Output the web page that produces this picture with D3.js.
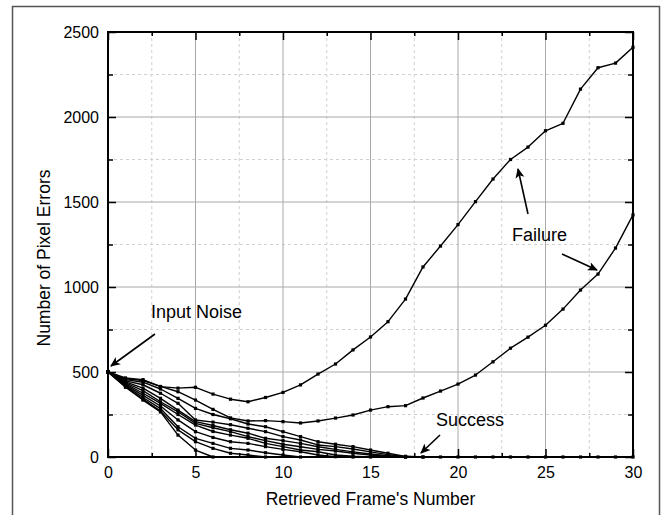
<!DOCTYPE html>
<html><head><meta charset="utf-8">
<script src="https://cdn.jsdelivr.net/npm/d3@7"></script>
<style>
body{margin:0;background:#fff;}
svg{display:block;font-family:"Liberation Sans",Arial,Helvetica,sans-serif;}
</style>
</head><body>
<svg id="chart" width="667" height="515"></svg>
<script>
// ---------- data ----------
const frames = [0,1,2,3,4,5,6,7,8,9,10,11,12,13,14,15,16,17,18,19,20,21,22,23,24,25,26,27,28,29,30];
const failure1 = [500,465,455,414,405,410,370,340,325,350,380,424,488,547,630,706,796,929,1118,1241,1367,1502,1635,1750,1823,1919,1963,2164,2290,2317,2410];
const failure2 = [500,460,450,415,384,335,280,230,212,214,208,200,212,229,247,276,296,302,347,388,429,482,560,640,705,775,870,982,1076,1229,1424];
const success1 = [500,455,440,400,345,286,250,225,194,178,149,120,90,75,61,41,22,4,0,0,0,0,0,0,0,0,0,0,0,0,0];
const success2 = [500,448,425,375,316,218,205,190,169,149,120,100,71,61,47,30,14,2,0];
const success3 = [500,442,405,345,276,208,185,160,140,110,96,80,60,45,30,18,8,0];
const success4 = [500,436,390,325,266,198,172,149,120,96,75,60,45,35,22,12,4,0];
const success5 = [500,430,375,315,250,188,150,129,110,80,61,41,31,12,4,0];
const success6 = [500,425,362,300,218,149,115,90,80,61,45,31,12,2,0];
const success7 = [500,420,350,285,178,110,80,51,41,25,12,0];
const success8 = [500,415,340,270,160,90,51,22,12,0];
const success9 = [500,410,335,265,129,41,0];
const seriesList = [success9,success8,success7,success6,success5,success4,success3,success2,success1,failure2,failure1];

const xMajorTicks = [0,5,10,15,20,25,30];
const xMinorTicks = [2.5,7.5,12.5,17.5,22.5,27.5];
const yMajorTicks = [0,500,1000,1500,2000,2500];
const yMinorTicks = [250,750,1250,1750,2250];
const xTitle = "Retrieved Frame's Number";
const yTitle = "Number of Pixel Errors";

// ---------- layout ----------
const svg = d3.select("#chart");
const L = 108, R = 633, T = 32, B = 457;
const x = d3.scaleLinear().domain([0,30]).range([L,R]);
const y = d3.scaleLinear().domain([0,2500]).range([B,T]);

svg.append("rect").attr("width",667).attr("height",515).attr("fill","#fff");
// outer frame
svg.append("rect").attr("x",12.5).attr("y",6.5).attr("width",647).attr("height",530)
  .attr("fill","none").attr("stroke","#555").attr("stroke-width",1.5);

// grid
const grid = svg.append("g");
grid.selectAll(".vmin").data(xMinorTicks).join("line")
  .attr("x1",d=>x(d)).attr("x2",d=>x(d)).attr("y1",T).attr("y2",B)
  .attr("stroke","#d0d0d0").attr("stroke-dasharray","3,3").attr("stroke-width",1);
grid.selectAll(".hmin").data(yMinorTicks).join("line")
  .attr("y1",d=>y(d)).attr("y2",d=>y(d)).attr("x1",L).attr("x2",R)
  .attr("stroke","#d0d0d0").attr("stroke-dasharray","3,3").attr("stroke-width",1);
grid.selectAll(".vmaj").data(xMajorTicks.slice(1,-1)).join("line")
  .attr("x1",d=>x(d)).attr("x2",d=>x(d)).attr("y1",T).attr("y2",B)
  .attr("stroke","#a8a8a8").attr("stroke-width",1);
grid.selectAll(".hmaj").data(yMajorTicks.slice(1,-1)).join("line")
  .attr("y1",d=>y(d)).attr("y2",d=>y(d)).attr("x1",L).attr("x2",R)
  .attr("stroke","#a8a8a8").attr("stroke-width",1);

// curves
const line = d3.line().x((d,i)=>x(frames[i])).y(d=>y(d));
const curves = svg.append("g");
seriesList.forEach(s=>{
  curves.append("path").attr("d",line(s)).attr("fill","none")
    .attr("stroke","#000").attr("stroke-width",1.4).attr("stroke-linejoin","round");
  curves.selectAll(null).data(s).join("rect")
    .attr("x",(d,i)=>x(frames[i])-1.6).attr("y",d=>y(d)-1.6)
    .attr("width",3.2).attr("height",3.2).attr("fill","#000");
});

// axes (box with inward ticks)
function axisGroup(axisFn, scale, transform, vals, size){
  svg.append("g").attr("transform",transform)
    .call(axisFn(scale).tickValues(vals).tickSize(size).tickFormat(""))
    .call(g=>g.select(".domain").remove())
    .call(g=>g.selectAll("line").attr("stroke","#000").attr("stroke-width",1.5));
}
axisGroup(d3.axisBottom, x, `translate(0,${B})`, xMajorTicks, -8);
axisGroup(d3.axisBottom, x, `translate(0,${B})`, xMinorTicks, -4);
axisGroup(d3.axisTop, x, `translate(0,${T})`, xMajorTicks, -8);
axisGroup(d3.axisTop, x, `translate(0,${T})`, xMinorTicks, -4);
axisGroup(d3.axisLeft, y, `translate(${L},0)`, yMajorTicks, -8);
axisGroup(d3.axisLeft, y, `translate(${L},0)`, yMinorTicks, -5);
axisGroup(d3.axisRight, y, `translate(${R},0)`, yMajorTicks, -8);
axisGroup(d3.axisRight, y, `translate(${R},0)`, yMinorTicks, -5);

svg.append("rect").attr("x",L).attr("y",T).attr("width",R-L).attr("height",B-T)
  .attr("fill","none").attr("stroke","#000").attr("stroke-width",2);

// tick labels via axes
svg.append("g").attr("transform",`translate(0,${B})`)
  .call(d3.axisBottom(x).tickValues(xMajorTicks).tickSize(0).tickPadding(10).tickFormat(d3.format("d")))
  .call(g=>g.select(".domain").remove())
  .call(g=>g.selectAll("text").attr("font-size",16).attr("fill","#000").attr("font-family","Liberation Sans, Arial, sans-serif"));
svg.append("g").attr("transform",`translate(${L},0)`)
  .call(d3.axisLeft(y).tickValues(yMajorTicks).tickSize(0).tickPadding(9).tickFormat(d3.format("d")))
  .call(g=>g.select(".domain").remove())
  .call(g=>g.selectAll("text").attr("font-size",16).attr("fill","#000").attr("font-family","Liberation Sans, Arial, sans-serif"));

// titles
svg.append("text").attr("x",(L+R)/2).attr("y",505).attr("text-anchor","middle")
  .attr("font-size",17.5).text(xTitle);
svg.append("text").attr("transform","translate(50,258) rotate(-90)").attr("text-anchor","middle")
  .attr("font-size",17.5).text(yTitle);

// annotations
const defs = svg.append("defs");
defs.append("marker").attr("id","ah").attr("viewBox","0 0 10 10").attr("refX",9).attr("refY",5)
  .attr("markerWidth",10).attr("markerHeight",10).attr("markerUnits","userSpaceOnUse").attr("orient","auto")
  .append("path").attr("d","M0,0.5 L10,5 L0,9.5 L2.5,5 Z").attr("fill","#000");
function arrow(x1,y1,x2,y2){
  svg.append("line").attr("x1",x1).attr("y1",y1).attr("x2",x2).attr("y2",y2)
    .attr("stroke","#000").attr("stroke-width",1.6).attr("marker-end","url(#ah)");
}
function label(t,xp,yp){
  svg.append("text").attr("x",xp).attr("y",yp).attr("font-size",18).attr("fill","#000").text(t);
}
label("Input Noise",151,318);
arrow(155,334,111,366);
label("Failure",512,241);
arrow(528,214,518,169);
arrow(562,254,597,270);
label("Success",436,426);
arrow(440,435,421,453);
</script>
</body></html>
